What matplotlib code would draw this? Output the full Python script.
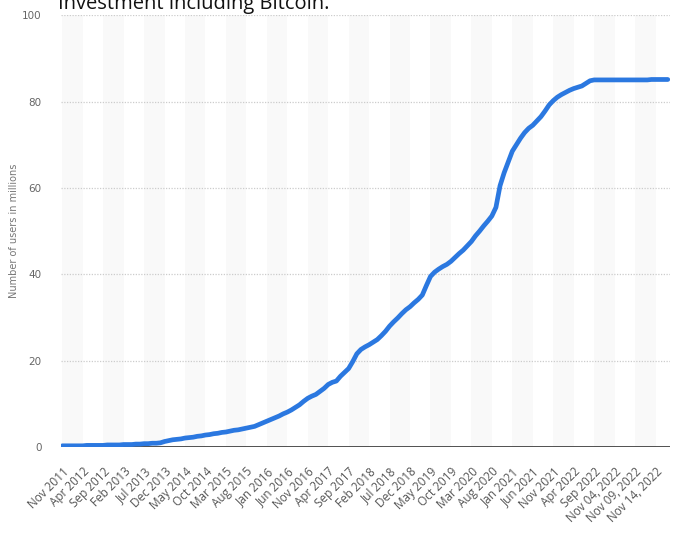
# packages
import pandas as pd
import numpy as np
import matplotlib.pyplot as plt

# categories : mensuel nov 2011 -> oct 2022, puis journalier en nov 2022
mois = list(pd.date_range('2011-11-01', '2022-10-01', freq='MS').strftime('%b %Y'))
jours = list(pd.date_range('2022-11-01', '2022-11-17', freq='D').strftime('%b %d, %Y'))
categories = mois + jours

# nombre d'utilisateurs (millions)
users = [
    0.3, 0.3, 0.3, 0.3, 0.3, 0.3, 0.4, 0.4, 0.4, 0.4,
    0.4, 0.5, 0.5, 0.5, 0.5, 0.6, 0.6, 0.6, 0.7, 0.7,
    0.8, 0.8, 0.9, 0.9, 1.0, 1.3, 1.5, 1.7, 1.8, 1.9,
    2.1, 2.2, 2.3, 2.5, 2.6, 2.8, 2.9, 3.1, 3.2, 3.4,
    3.5, 3.7, 3.9, 4.0, 4.2, 4.4, 4.6, 4.8, 5.2, 5.6,
    6.0, 6.4, 6.8, 7.2, 7.7, 8.1, 8.6, 9.2, 9.8, 10.6,
    11.3, 11.8, 12.2, 12.9, 13.6, 14.5, 15.0, 15.3, 16.4, 17.3,
    18.2, 19.8, 21.6, 22.6, 23.2, 23.7, 24.3, 24.9, 25.8, 26.8,
    28.0, 29.0, 29.9, 30.9, 31.8, 32.5, 33.4, 34.2, 35.2, 37.4,
    39.5, 40.5, 41.2, 41.8, 42.3, 43.0, 43.9, 44.8, 45.6, 46.6,
    47.6, 48.9, 50.0, 51.2, 52.3, 53.5, 55.5, 60.5, 63.5, 66.0,
    68.5, 70.0, 71.5, 72.8, 73.8, 74.5, 75.5, 76.5, 77.8, 79.2,
    80.2, 81.0, 81.6, 82.1, 82.6, 83.0, 83.3, 83.6, 84.2, 84.8,
    85.0, 85.0, 85.0, 85.0, 85.0, 85.0, 85.0, 85.0, 85.0, 85.0,
    85.0, 85.0, 85.0, 85.0, 85.1, 85.1, 85.1, 85.1, 85.1,
]

y_ticks = [0, 20, 40, 60, 80, 100]
titre = 'Investment including Bitcoin.'
y_label = 'Number of users in millions'

x = np.arange(len(categories))

fig = plt.figure(figsize=(6.81, 5.40), dpi=100)
ax = fig.add_axes([0.0896, 0.172, 0.894, 0.800])

# bandes grises alternees entre les etiquettes
for debut in range(0, len(categories) - 5, 10):
    ax.axvspan(debut, debut + 5, color='#f9f9f9', lw=0, zorder=0)

for v in y_ticks[1:]:
    ax.axhline(v, color='#cccccc', lw=0.9, ls=(0, (1, 1.2)), zorder=1)
ax.axhline(0, color='#333333', lw=1.2, zorder=2)

ax.plot(x, users, color='#2b78e0', lw=3.4, solid_capstyle='round',
        solid_joinstyle='round', zorder=3)

ax.set_xlim(-0.3, 148.5)
ax.set_ylim(0, 100)
for s in ax.spines.values():
    s.set_visible(False)

ax.set_yticks(y_ticks)
ax.set_yticklabels([str(v) for v in y_ticks], color='#666666', fontsize=7.5)
ax.tick_params(axis='y', length=0, pad=14)

ax.set_xticks(x[::5])
ax.set_xticklabels(categories[::5], rotation=45, ha='right', rotation_mode='anchor',
                   color='#555555', fontsize=8.5, family='Open Sans')
ax.tick_params(axis='x', length=0, pad=13)

fig.text(0.02, 0.572, y_label, rotation=90, ha='center', va='center',
         color='#777777', fontsize=7)

fig.text(58 / 681, 1 - 9 / 540, titre, ha='left', va='baseline',
         fontsize=14.5, family='Open Sans', color='#111111')

fig.savefig('out.png', dpi=100)
